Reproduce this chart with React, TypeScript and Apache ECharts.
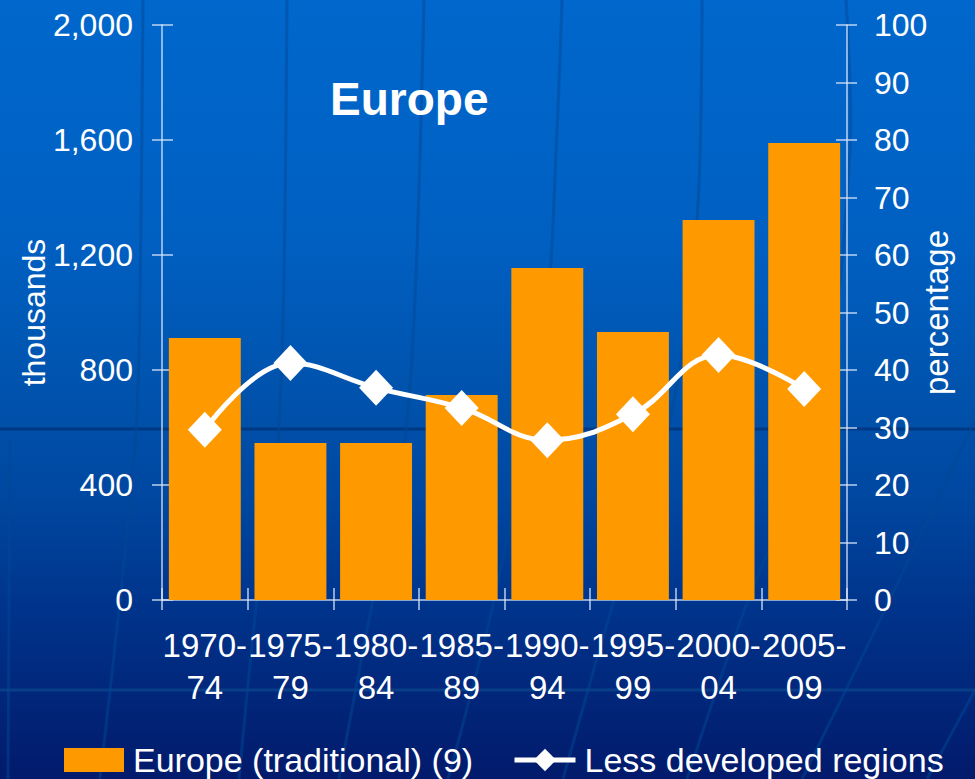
import React, { useEffect, useRef } from "react";
import * as echarts from "echarts";

const categories = ["1970-\n74", "1975-\n79", "1980-\n84", "1985-\n89", "1990-\n94", "1995-\n99", "2000-\n04", "2005-\n09"];
const europeTraditional = [911, 546, 546, 713, 1155, 932, 1322, 1590];
const lessDeveloped = [29.6, 41.2, 36.9, 33.4, 27.8, 32.3, 42.6, 36.7];
const leftTicks = { min: 0, max: 2000, interval: 400 };
const rightTicks = { min: 0, max: 100, interval: 10 };

const FONT = '"Liberation Sans", Arial, sans-serif';
const AXIS_COLOR = "rgba(220,232,250,0.85)";

// decorative globe lines (background only)
const meridians: number[][][] = [
  [[143, 0], [140, 300], [136, 430], [120, 600], [100, 779]],
  [[287, 0], [283, 320], [275, 480], [257, 600], [239, 779]],
  [[424, 0], [414, 320], [400, 480], [373, 600], [339, 779]],
  [[562, 0], [557, 130], [545, 330], [494, 600], [448, 779]],
  [[702, 0], [697, 220], [670, 420], [614, 600], [563, 779]],
  [[846, 0], [850, 150], [820, 420], [748, 600], [687, 779]],
  [[975, 420], [880, 620], [802, 779]],
  [[975, 690], [927, 779]],
  [[10, 440], [8, 779]],
];

export default function App() {
  const ref = useRef<HTMLDivElement>(null);
  useEffect(() => {
    document.body.style.margin = "0";
    const chart = echarts.init(ref.current!, null, { renderer: "svg" });
    const graphics: any[] = [
      {
        type: "line",
        silent: true,
        z: -10,
        shape: { x1: 0, y1: 429, x2: 975, y2: 429 },
        style: { stroke: "rgba(0,40,100,0.55)", lineWidth: 3 },
      },
      {
        type: "line",
        silent: true,
        z: -10,
        shape: { x1: 0, y1: 690, x2: 975, y2: 690 },
        style: { stroke: "rgba(20,90,150,0.45)", lineWidth: 3 },
      },
      ...meridians.map((pts) => ({
        type: "polyline",
        silent: true,
        z: -10,
        shape: { points: pts, smooth: 0.3 },
        style: { stroke: "rgba(0,72,150,0.5)", lineWidth: 3, fill: null },
      })),
      {
        type: "text",
        left: 330,
        top: 76,
        z: 10,
        style: {
          text: "Europe",
          fill: "#ffffff",
          font: `bold 46px ${FONT}`,
        },
      },
    ];
    const legendText = { color: "#ffffff", fontSize: 34, fontFamily: FONT, padding: [0, 0, 0, 4] };
    chart.setOption({
      animation: false,
      backgroundColor: {
        type: "linear",
        x: 0,
        y: 0,
        x2: 0,
        y2: 1,
        colorStops: [
          { offset: 0, color: "#0067cc" },
          { offset: 0.3, color: "#0060c2" },
          { offset: 0.5, color: "#0053ad" },
          { offset: 0.64, color: "#0047a0" },
          { offset: 0.77, color: "#00358d" },
          { offset: 1, color: "#021a6b" },
        ],
      },
      textStyle: { fontFamily: FONT },
      graphic: graphics,
      grid: { left: 162, right: 128, top: 25, bottom: 179, containLabel: false },
      legend: [
        {
          left: 59,
          top: 738,
          itemWidth: 60,
          itemHeight: 24,
          textStyle: legendText,
          data: [{ name: "Europe (traditional) (9)", icon: "rect" }],
        },
        {
          left: 507,
          top: 738,
          itemWidth: 61,
          itemHeight: 28,
          textStyle: legendText,
          lineStyle: { width: 5, color: "#ffffff" },
          itemStyle: { color: "#ffffff" },
          data: [{ name: "Less developed regions" }],
        },
      ],
      xAxis: [
        {
          type: "category",
          data: categories,
          axisLine: { lineStyle: { color: AXIS_COLOR, width: 1.5 } },
          axisTick: { show: true, length: 10, lineStyle: { color: AXIS_COLOR, width: 1.5 } },
          axisLabel: {
            interval: 0,
            color: "#ffffff",
            fontSize: 33,
            lineHeight: 42,
            margin: 24,
            fontFamily: FONT,
          },
          splitLine: { show: false },
        },
        {
          type: "category",
          data: categories,
          position: "bottom",
          axisLine: { show: false },
          axisTick: { show: true, inside: true, length: 12, lineStyle: { color: AXIS_COLOR, width: 1.5 } },
          axisLabel: { show: false },
          splitLine: { show: false },
        },
      ],
      yAxis: [
        {
          type: "value",
          ...leftTicks,
          position: "left",
          name: "thousands",
          nameLocation: "middle",
          nameRotate: 90,
          nameGap: 112,
          nameMoveOverlap: false,
          nameTextStyle: { color: "#ffffff", fontSize: 32, fontFamily: FONT },
          axisLine: { show: true, lineStyle: { color: AXIS_COLOR, width: 1.5 } },
          axisTick: { show: true, length: 10, lineStyle: { color: AXIS_COLOR, width: 1.5 } },
          axisLabel: {
            color: "#ffffff",
            fontSize: 32,
            margin: 29,
            fontFamily: FONT,
            formatter: (v: number) => v.toLocaleString("en-US"),
          },
          splitLine: { show: false },
        },
        {
          type: "value",
          ...rightTicks,
          position: "right",
          name: "percentage",
          nameLocation: "middle",
          nameRotate: 90,
          nameGap: 73,
          nameMoveOverlap: false,
          nameTextStyle: { color: "#ffffff", fontSize: 33, fontFamily: FONT },
          axisLine: { show: true, lineStyle: { color: AXIS_COLOR, width: 1.5 } },
          axisTick: { show: true, length: 10, lineStyle: { color: AXIS_COLOR, width: 1.5 } },
          axisLabel: { color: "#ffffff", fontSize: 32, margin: 27, fontFamily: FONT },
          splitLine: { show: false },
        },
        {
          type: "value",
          ...leftTicks,
          position: "left",
          axisLine: { show: false },
          axisTick: { show: true, inside: true, length: 11, lineStyle: { color: AXIS_COLOR, width: 1.5 } },
          axisLabel: { show: false },
          splitLine: { show: false },
        },
        {
          type: "value",
          ...rightTicks,
          position: "right",
          axisLine: { show: false },
          axisTick: { show: true, inside: true, length: 11, lineStyle: { color: AXIS_COLOR, width: 1.5 } },
          axisLabel: { show: false },
          splitLine: { show: false },
        },
      ],
      series: [
        {
          name: "Europe (traditional) (9)",
          type: "bar",
          xAxisIndex: 0,
          yAxisIndex: 0,
          data: europeTraditional,
          barWidth: "84%",
          itemStyle: { color: "#ff9900" },
          z: 2,
        },
        {
          name: "Less developed regions",
          type: "line",
          xAxisIndex: 0,
          yAxisIndex: 1,
          data: lessDeveloped,
          smooth: 0.4,
          symbol: "diamond",
          symbolSize: [34, 36],
          lineStyle: { color: "#ffffff", width: 5 },
          itemStyle: { color: "#ffffff", borderWidth: 0 },
          z: 5,
        },
      ],
    });
    return () => chart.dispose();
  }, []);
  return <div ref={ref} style={{ width: 975, height: 779 }} />;
}
